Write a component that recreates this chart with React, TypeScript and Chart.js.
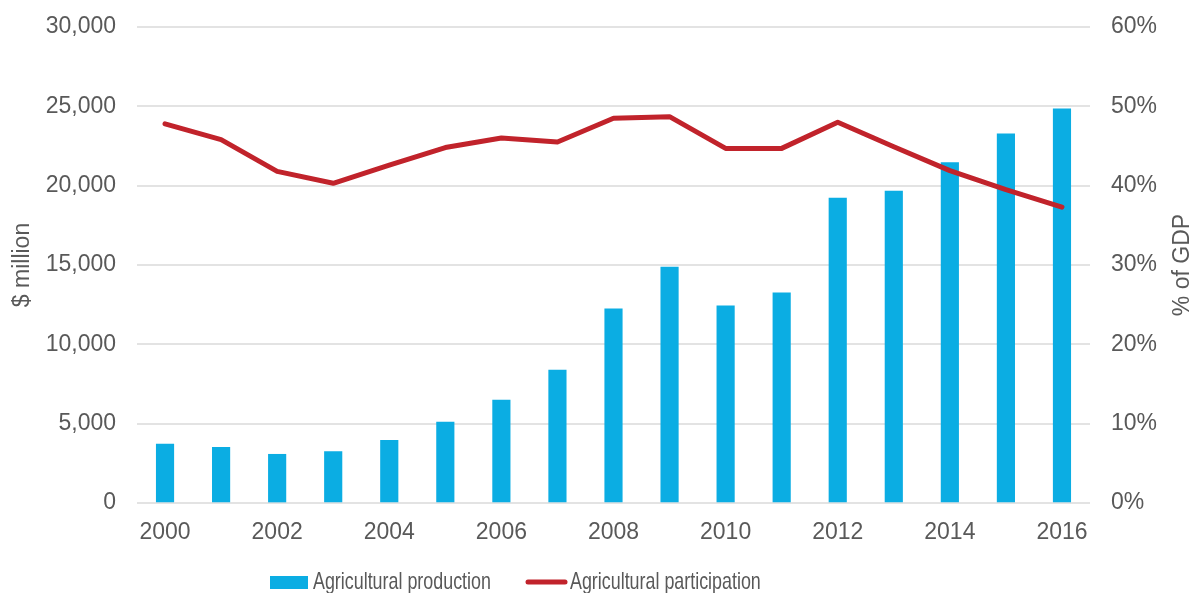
import React, { useEffect, useRef } from "react";
import { Chart, registerables } from "chart.js";

Chart.register(...registerables);

const years = ["2000","2001","2002","2003","2004","2005","2006","2007","2008","2009","2010","2011","2012","2013","2014","2015","2016"];
const production = [3720, 3510, 3070, 3240, 3950, 5100, 6490, 8380, 12230, 14870, 12420, 13240, 19220, 19660, 21450, 23260, 24850];
const participation = [47.8, 45.8, 41.8, 40.3, 42.6, 44.8, 46.0, 45.5, 48.5, 48.7, 44.7, 44.7, 48.0, 44.9, 41.9, 39.5, 37.3];
const leftTicks = [0, 5000, 10000, 15000, 20000, 25000, 30000];
const rightTicks = [0, 10, 20, 30, 40, 50, 60];
const legendLabels = ["Agricultural production", "Agricultural participation"];
const axisTitles = ["$ million", "% of GDP"];

const BLUE = "#0BADE3";
const RED = "#C1232B";
const TEXT = "#595959";
const FONT = "'Liberation Sans', Arial, sans-serif";

const decorPlugin = {
  id: "decor",
  afterDraw(chart: any) {
    const ctx = chart.ctx as CanvasRenderingContext2D;
    const area = chart.chartArea;
    const midY = (area.top + area.bottom) / 2;
    ctx.save();
    ctx.fillStyle = TEXT;
    ctx.font = `23px ${FONT}`;
    ctx.textAlign = "center";
    ctx.textBaseline = "middle";
    // left title
    ctx.save();
    ctx.translate(23, midY);
    ctx.rotate(-Math.PI / 2);
    ctx.fillText(axisTitles[0], 0, 0);
    ctx.restore();
    // right title
    ctx.save();
    ctx.translate(1183, midY);
    ctx.rotate(-Math.PI / 2);
    ctx.fillText(axisTitles[1], 0, 0);
    ctx.restore();

    // legend
    const baseY = 589;
    ctx.fillStyle = BLUE;
    ctx.fillRect(270, 576, 38, 13);
    ctx.strokeStyle = RED;
    ctx.lineWidth = 5;
    ctx.lineCap = "round";
    ctx.beginPath();
    ctx.moveTo(528, 582);
    ctx.lineTo(565, 582);
    ctx.stroke();

    ctx.fillStyle = TEXT;
    ctx.font = `24px ${FONT}`;
    ctx.textAlign = "left";
    ctx.textBaseline = "alphabetic";
    const sx = 0.745;
    ctx.save();
    ctx.translate(313, baseY);
    ctx.scale(sx, 1);
    ctx.fillText(legendLabels[0], 0, 0);
    ctx.restore();
    ctx.save();
    ctx.translate(570, baseY);
    ctx.scale(sx, 1);
    ctx.fillText(legendLabels[1], 0, 0);
    ctx.restore();
    ctx.restore();
  },
};

export default function App() {
  const ref = useRef<HTMLCanvasElement | null>(null);
  useEffect(() => {
    if (!ref.current) return;
    Chart.defaults.font.family = FONT;
    Chart.defaults.color = TEXT;
    const chart = new Chart(ref.current, {
      type: "bar",
      data: {
        labels: years,
        datasets: [
          {
            type: "line",
            label: legendLabels[1],
            data: participation,
            yAxisID: "y1",
            borderColor: RED,
            backgroundColor: RED,
            borderWidth: 5,
            pointRadius: 0,
            tension: 0,
            borderCapStyle: "round",
            borderJoinStyle: "round",
            order: 0,
          } as any,
          {
            type: "bar",
            label: legendLabels[0],
            data: production,
            yAxisID: "y",
            backgroundColor: BLUE,
            barThickness: 17.5,
            order: 1,
          } as any,
        ],
      },
      options: {
        responsive: false,
        animation: false,
        layout: { padding: { top: 27, left: 0, right: 0, bottom: 0 } },
        plugins: {
          legend: { display: false },
          tooltip: { enabled: false },
        },
        scales: {
          x: {
            grid: { display: false, drawTicks: false },
            border: { display: false },
            ticks: {
              autoSkip: false,
              maxRotation: 0,
              padding: 16,
              font: { size: 23 },
              color: TEXT,
              callback: (_v: any, i: number) => (i % 2 === 0 ? years[i] : ""),
            },
            afterFit: (s: any) => { s.height = 97; },
          },
          y: {
            position: "left",
            min: 0,
            max: 30000,
            afterBuildTicks: (s: any) => { s.ticks = leftTicks.map((v) => ({ value: v })); },
            grid: { color: "#e3e3e3", lineWidth: 2, drawTicks: false },
            border: { display: false },
            ticks: {
              padding: 21,
              font: { size: 23 },
              color: TEXT,
              callback: (v: any) => Number(v).toLocaleString("en-US"),
            },
            afterFit: (s: any) => { s.width = 137; s.paddingTop = 0; s.paddingBottom = 0; },
          },
          y1: {
            position: "right",
            min: 0,
            max: 60,
            afterBuildTicks: (s: any) => { s.ticks = rightTicks.map((v) => ({ value: v })); },
            grid: { display: false, drawTicks: false },
            border: { display: false },
            ticks: {
              padding: 21,
              font: { size: 23 },
              color: TEXT,
              callback: (v: any) => `${v}%`,
            },
            afterFit: (s: any) => { s.width = 102; s.paddingTop = 0; s.paddingBottom = 0; },
          },
        },
      },
      plugins: [decorPlugin],
    });
    return () => chart.destroy();
  }, []);
  return (
    <div style={{ position: "fixed", left: 0, top: 0, width: 1192, height: 600, background: "#fff" }}>
      <canvas ref={ref} width={1192} height={600} style={{ display: "block" }} />
    </div>
  );
}
